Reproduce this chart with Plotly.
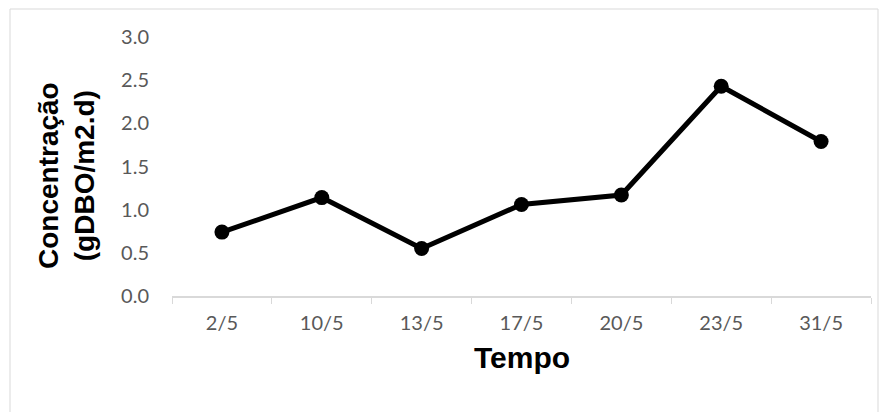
import plotly.graph_objects as go

dates = ["2/5", "10/5", "13/5", "17/5", "20/5", "23/5", "31/5"]
concentration = [0.74, 1.14, 0.55, 1.06, 1.17, 2.43, 1.79]
y_ticks = [0.0, 0.5, 1.0, 1.5, 2.0, 2.5, 3.0]

W, H = 886, 412
L, R, T, B = 172, 15, 37, 116
pw, ph = W - L - R, H - T - B


def px_to_paper_x(px):
    return (px - L) / pw


def px_to_paper_y(py):
    return (H - B - py) / ph


fig = go.Figure()
fig.add_trace(
    go.Scatter(
        x=dates,
        y=concentration,
        mode="lines+markers",
        line=dict(color="black", width=5),
        marker=dict(size=15, color="black"),
        showlegend=False,
    )
)

tick_font = dict(family="Lato, Open Sans, sans-serif", size=20, color="#595959")

fig.update_layout(
    width=W,
    height=H,
    margin=dict(l=L, r=R, t=T, b=B),
    plot_bgcolor="white",
    paper_bgcolor="white",
    xaxis=dict(
        type="category",
        tickson="boundaries",
        ticks="outside",
        ticklen=6,
        tickcolor="#d9d9d9",
        showline=True,
        linecolor="#d9d9d9",
        linewidth=1.5,
        showgrid=False,
        zeroline=False,
        tickfont=tick_font,
        ticklabelstandoff=8,
        range=[-0.5, len(dates) - 0.5],
    ),
    yaxis=dict(
        range=[0, 3],
        tickvals=y_ticks,
        ticktext=[f"{v:.1f}" for v in y_ticks],
        showgrid=False,
        zeroline=False,
        showline=False,
        tickfont=tick_font,
        ticklabelstandoff=22,
    ),
    shapes=[
        dict(
            type="rect",
            xref="paper",
            yref="paper",
            x0=px_to_paper_x(10),
            x1=px_to_paper_x(878),
            y0=px_to_paper_y(420),
            y1=px_to_paper_y(9),
            line=dict(color="#d9d9d9", width=1),
            fillcolor="rgba(0,0,0,0)",
            layer="below",
        )
    ],
    annotations=[
        dict(
            text="Concentração<br>(gDBO/m2.d)",
            xref="paper",
            yref="paper",
            x=px_to_paper_x(66),
            y=px_to_paper_y(176),
            textangle=-90,
            showarrow=False,
            xanchor="center",
            yanchor="middle",
            font=dict(family="Liberation Sans, Arial", size=28, color="black", weight="bold"),
        ),
        dict(
            text="Tempo",
            xref="paper",
            yref="paper",
            x=px_to_paper_x(522),
            y=px_to_paper_y(357),
            showarrow=False,
            xanchor="center",
            yanchor="middle",
            font=dict(family="Liberation Sans, Arial", size=30, color="black", weight="bold"),
        ),
    ],
)

fig.write_html(
    "out.html",
    config={"displayModeBar": False},
    post_script="document.body.style.margin='0';",
)
